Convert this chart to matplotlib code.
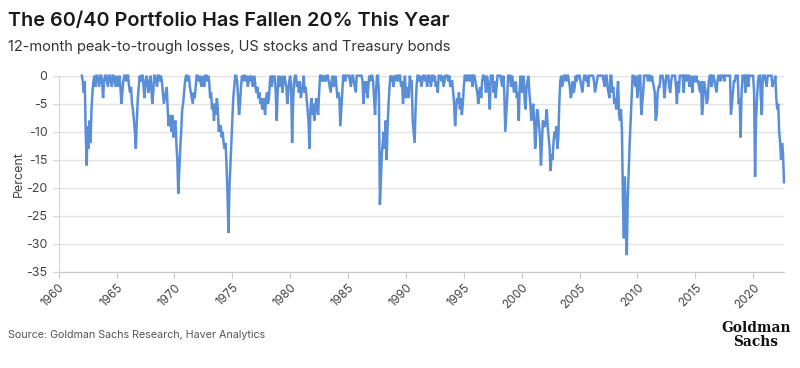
import numpy as np
import matplotlib
matplotlib.use("Agg")
import matplotlib.pyplot as plt

# monthly 12-month peak-to-trough loss (%)
losses = {
    1962: [0, -1, -3, -1, -10, -16, -9, -13, -8, -12, -6, -3],
    1963: [-1, 0, -2, 0, 0, -1, -2, 0, 0, -1, -4, -1],
    1964: [0, 0, -1, -2, 0, 0, -1, -2, 0, 0, -1, -2],
    1965: [0, -1, -2, 0, -2, -5, -3, -1, 0, 0, -1, 0],
    1966: [0, -2, -3, -2, -5, -6, -8, -10, -13, -8, -4, -2],
    1967: [0, -1, 0, 0, -2, -4, -1, 0, -1, -3, -2, 0],
    1968: [-2, -5, -3, 0, 0, -1, -2, 0, 0, -1, 0, -1],
    1969: [-3, -5, -4, -3, -2, -6, -9, -7, -8, -10, -7, -11],
    1970: [-9, -8, -12, -15, -21, -17, -13, -10, -6, -5, -3, -1],
    1971: [0, 0, -1, 0, -2, -3, -4, -5, -3, -4, -2, 0],
    1972: [0, -1, 0, -1, -2, 0, -1, -2, 0, 0, -1, 0],
    1973: [-1, -4, -3, -6, -5, -8, -5, -7, -4, -6, -10, -9],
    1974: [-9, -11, -10, -12, -13, -12, -16, -21, -28, -20, -16, -12],
    1975: [-8, -4, -2, 0, 0, -1, -4, -7, -5, -2, 0, -1],
    1976: [0, 0, -1, 0, -2, -1, 0, -1, 0, -2, -1, 0],
    1977: [-2, -3, -2, -4, -3, -5, -4, -6, -4, -5, -7, -4],
    1978: [-3, -5, -4, -1, 0, -2, 0, -1, 0, -3, -8, -3],
    1979: [0, -2, -1, 0, -3, -1, 0, -1, -2, -5, -3, -1],
    1980: [0, -2, -12, -5, -1, 0, 0, -2, -1, -3, -1, -4],
    1981: [-3, -2, 0, -3, -2, -4, -6, -8, -13, -6, -4, -7],
    1982: [-5, -8, -6, -4, -6, -7, -3, 0, 0, -1, 0, -1],
    1983: [0, -1, 0, 0, -1, -2, -3, -1, 0, -2, -1, 0],
    1984: [-2, -4, -3, -4, -9, -6, -3, 0, 0, -1, 0, 0],
    1985: [0, 0, -1, -2, 0, 0, -1, -2, -3, 0, 0, 0],
    1986: [0, 0, 0, -1, -5, -1, -3, -1, -4, -2, 0, -1],
    1987: [0, 0, -1, -4, -7, -3, 0, 0, -3, -23, -19, -14],
    1988: [-12, -10, -13, -8, -15, -9, -5, -2, 0, -1, 0, -2],
    1989: [0, -1, 0, 0, -1, 0, 0, -2, -1, -5, -2, 0],
    1990: [-4, -3, -2, -4, 0, -1, -1, -8, -10, -12, -6, -2],
    1991: [0, 0, -1, 0, -2, -1, 0, 0, -1, 0, -2, 0],
    1992: [0, -1, -2, 0, 0, -1, 0, -2, -1, -3, 0, 0],
    1993: [0, -1, 0, -2, -1, 0, 0, 0, -1, 0, -2, -1],
    1994: [-1, -3, -5, -9, -6, -4, -5, -3, -6, -4, -7, -5],
    1995: [-2, 0, 0, -1, 0, 0, -1, 0, 0, -2, 0, 0],
    1996: [-1, -2, -3, -5, -3, -2, -4, -1, 0, 0, -1, -3],
    1997: [0, -1, -3, -6, 0, 0, 0, -3, -1, -4, -2, 0],
    1998: [0, 0, 0, -1, -2, 0, -3, -10, -7, -4, 0, 0],
    1999: [0, -2, 0, -1, -3, -2, -1, -4, -3, -8, -2, 0],
    2000: [-3, -2, 0, -4, -6, -2, -1, 0, -3, -5, -8, -6],
    2001: [-5, -8, -13, -10, -6, -7, -9, -11, -16, -12, -8, -9],
    2002: [-9, -8, -6, -9, -11, -13, -17, -14, -15, -12, -10, -11],
    2003: [-9, -13, -11, -5, -1, 0, -2, -1, 0, 0, -1, 0],
    2004: [0, -1, -2, -4, -3, -1, -3, -2, 0, -1, 0, 0],
    2005: [0, -1, -2, -3, -1, 0, 0, -1, 0, -2, 0, 0],
    2006: [0, 0, 0, -1, -3, -2, -1, 0, 0, 0, 0, 0],
    2007: [0, -1, -2, 0, 0, -2, -3, -4, 0, 0, -3, -2],
    2008: [-5, -4, -6, -3, -1, -7, -8, -6, -10, -22, -29, -18],
    2009: [-26, -32, -22, -17, -12, -8, -4, 0, 0, -1, -2, 0],
    2010: [-4, -2, 0, 0, -7, -5, -3, 0, 0, 0, 0, -1],
    2011: [0, 0, -1, 0, -1, -2, -3, -8, -7, -3, -2, -2],
    2012: [0, 0, 0, -1, -4, -2, 0, 0, 0, -2, -3, -1],
    2013: [0, 0, 0, 0, -2, -5, -1, -3, 0, 0, 0, 0],
    2014: [-3, 0, 0, -1, 0, 0, -2, 0, -1, -3, 0, -1],
    2015: [-1, 0, -1, -1, -2, -3, -1, -7, -5, -1, -2, -3],
    2016: [-5, -4, -1, 0, 0, -2, 0, 0, -1, -2, -3, -1],
    2017: [0, 0, -1, 0, 0, 0, -1, 0, 0, 0, 0, 0],
    2018: [0, -7, -5, -3, -1, -1, 0, 0, 0, -5, -4, -11],
    2019: [-3, 0, 0, 0, -3, 0, 0, -2, 0, 0, 0, 0],
    2020: [0, -3, -18, -8, -4, -1, 0, 0, -4, -7, 0, 0],
    2021: [0, -1, -2, 0, 0, 0, 0, 0, -2, -1, -1, 0],
    2022: [-4, -6, -5, -10, -12, -15, -12, -14, -19],
}

x_ticks = list(range(1960, 2021, 5))
y_ticks = list(range(-35, 1, 5))

dates = []
values = []
for yr, vals in losses.items():
    for m, v in enumerate(vals):
        dates.append(yr + m / 12)
        values.append(v)

line_color = "#5a8fd8"
grid_color = "#e3e3e3"
text_color = "#333333"
font = ["Inter", "DejaVu Sans"]

fig = plt.figure(figsize=(8, 3.68), dpi=100)
ax = fig.add_axes([58.7 / 800, 1 - 272 / 368, (784 - 58.7) / 800, (272 - 75.7) / 368])

ax.plot(dates, values, color=line_color, lw=1.8, clip_on=False, solid_joinstyle="miter")

ax.set_xlim(1960, dates[-1])
ax.set_ylim(-35, 0)
ax.set_xticks(x_ticks)
ax.set_xticklabels([str(t) for t in x_ticks], rotation=45, ha="right", va="top",
                   rotation_mode="anchor", family=font, fontsize=8.5, color="#444444")
ax.set_yticks(y_ticks)
ax.set_yticklabels([str(t) for t in y_ticks], family=font, fontsize=9, color="#444444")
ax.yaxis.grid(True, color=grid_color, lw=1)
ax.set_axisbelow(True)
for s in ["top", "right"]:
    ax.spines[s].set_visible(False)
ax.spines["left"].set_color("#d5d5d5")
ax.spines["bottom"].set_color("#c8c8c8")
ax.tick_params(axis="x", length=4, color="#c8c8c8", pad=3)
ax.tick_params(axis="y", length=4, color="#d5d5d5", pad=4)
ax.set_ylabel("Percent", family=font, fontsize=9, color="#444444", labelpad=1)

fig.text(8 / 800, 1 - 21 / 368, "The 60/40 Portfolio Has Fallen 20% This Year",
         family=font, fontsize=14.3, fontweight="semibold", color="#1a1a1a", va="center")
fig.text(8 / 800, 1 - 47 / 368, "12-month peak-to-trough losses, US stocks and Treasury bonds",
         family=font, fontsize=10.5, color=text_color, va="center")
fig.text(8 / 800, 1 - 335 / 368, "Source: Goldman Sachs Research, Haver Analytics",
         family=font, fontsize=7.7, color="#555555", va="center")
fig.text(756 / 800, 1 - 335 / 368, "Goldman\nSachs", family=["DejaVu Serif", "DejaVu Sans"],
         fontstretch="condensed", fontweight="bold", fontsize=11, color="#111111",
         ha="center", va="center", linespacing=0.95)

fig.savefig("out.png", dpi=100, facecolor="white")
